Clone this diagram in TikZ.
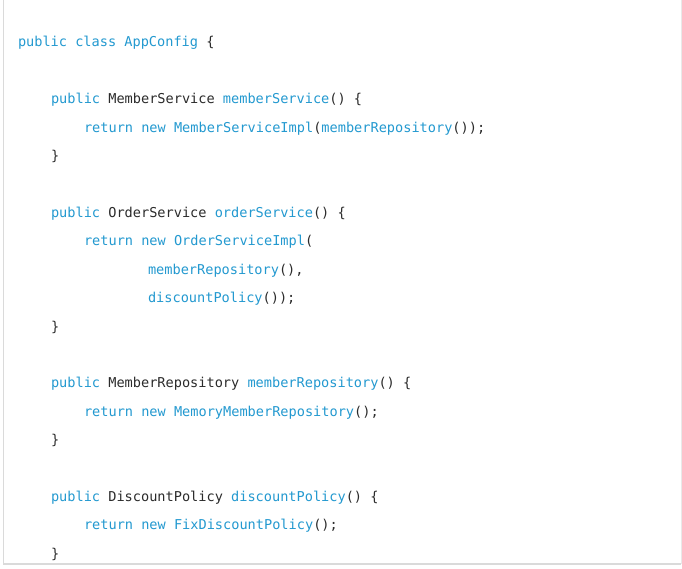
\documentclass[tikz,border=0pt]{standalone}
\usepackage{fontspec}
\setmonofont{DejaVu Sans Mono}
\definecolor{kwblue}{HTML}{2399D0}
\definecolor{codedark}{HTML}{2B2B2B}
\definecolor{framegray}{HTML}{DADADA}
\newcommand{\kb}[1]{\textcolor{kwblue}{#1}}
\newcommand{\dk}[1]{\textcolor{codedark}{#1}}
\tikzset{
  codeline/.style={anchor=base west, inner sep=0pt, outer sep=0pt,
    font=\ttfamily\fontsize{13.6bp}{16bp}\selectfont, text=codedark},
  frameline/.style={draw=framegray, line width=1.5bp}
}
\begin{document}
\begin{tikzpicture}[x=1bp,y=-1bp]
\useasboundingbox (0,0) rectangle (682,569);
\fill[white] (0,0) rectangle (682,569);
% frame
\coordinate (ftl) at (3.5,0);
\coordinate (fbl) at (3.5,564);
\coordinate (fbr) at (681,564);
\coordinate (ftr) at (681,0);
\draw[frameline] (ftl) -- (fbl) -- (fbr);
\draw[draw=framegray!60, line width=1bp] (fbr) -- (ftr);
% code lines
\node[codeline] (l0)  at (18,47)    {\kb{public class AppConfig} \dk{\{}};
\node[codeline] (l2)  at (51,103.8) {\kb{public} \dk{MemberService} \kb{memberService}\dk{() \{}};
\node[codeline] (l3)  at (84,132.2) {\kb{return new MemberServiceImpl}\dk{(}\kb{memberRepository}\dk{());}};
\node[codeline] (l4)  at (51,160.6) {\dk{\}}};
\node[codeline] (l6)  at (51,217.4) {\kb{public} \dk{OrderService} \kb{orderService}\dk{() \{}};
\node[codeline] (l7)  at (84,245.8) {\kb{return new OrderServiceImpl}\dk{(}};
\node[codeline] (l8)  at (148,274.2) {\kb{memberRepository}\dk{(),}};
\node[codeline] (l9)  at (148,302.6) {\kb{discountPolicy}\dk{());}};
\node[codeline] (l10) at (51,331)   {\dk{\}}};
\node[codeline] (l12) at (51,387.8) {\kb{public} \dk{MemberRepository} \kb{memberRepository}\dk{() \{}};
\node[codeline] (l13) at (84,416.2) {\kb{return new MemoryMemberRepository}\dk{();}};
\node[codeline] (l14) at (51,444.6) {\dk{\}}};
\node[codeline] (l16) at (51,501.4) {\kb{public} \dk{DiscountPolicy} \kb{discountPolicy}\dk{() \{}};
\node[codeline] (l17) at (84,529.8) {\kb{return new FixDiscountPolicy}\dk{();}};
\node[codeline] (l18) at (51,558.2) {\dk{\}}};
\end{tikzpicture}
\end{document}
